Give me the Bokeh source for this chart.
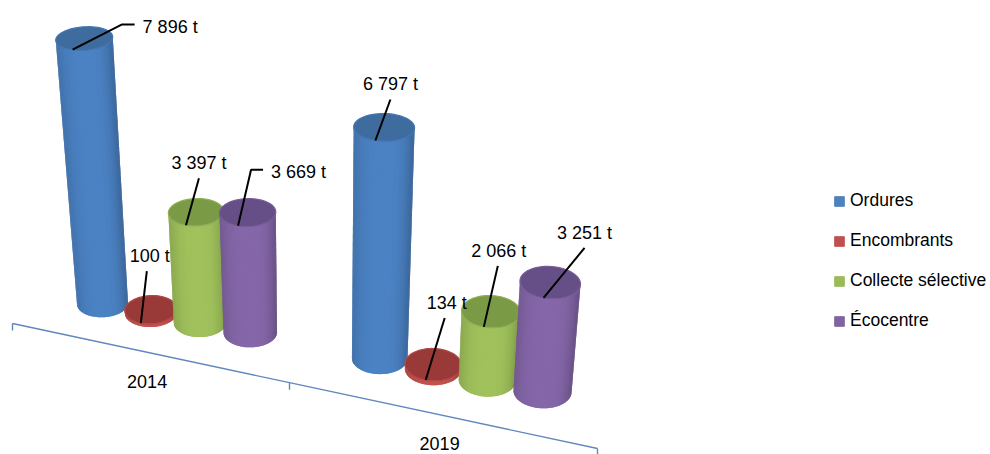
import math
from bokeh.plotting import figure
from bokeh.models import Range1d, Legend, LegendItem
from bokeh.core.properties import value
from bokeh.embed import file_html
from bokeh.resources import INLINE

# ---- data ----
years = ["2014", "2019"]
series_names = ["Ordures", "Encombrants", "Collecte sélective", "Écocentre"]
ordures = [7896, 6797]
encombrants = [100, 134]
collecte = [3397, 2066]
ecocentre = [3669, 3251]
all_series = [ordures, encombrants, collecte, ecocentre]

# ---- styles ----
body_colors = ["#4A80C0", "#C0504D", "#9DBE5A", "#8365A6"]
top_colors = ["#3F6C9F", "#9A3A38", "#7A9A45", "#654F86"]
legend_colors = ["#4F81BD", "#C0504D", "#9BBB59", "#8064A2"]
FONT = "Liberation Sans"

# leader layout per (series, year): elbow points and label anchor, relative to the top of the cylinder
leaders = {
    (0, 0): ([(49, -25), (62, -25)], (70, -23), "left"),
    (1, 0): ([(6, -52)], (9, -67), "center"),
    (2, 0): ([(13, -47)], (13, -62), "center"),
    (3, 0): ([(13, -56), (25, -56)], (33, -54), "left"),
    (0, 1): ([(15, -41)], (15, -56), "center"),
    (1, 1): ([(19, -62)], (21, -77), "center"),
    (2, 1): ([(14, -61)], (15, -76), "center"),
    (3, 1): ([(41, -50)], (41, -65), "center"),
}

# ---- oblique perspective projection ----
GROUP_GAP = 5.5


def floor_x(u):
    return 102 + 47.9 * u + 0.455 * u * u


def floor_y(u):
    return 303 + 9.3 * u + 0.121 * u * u


def lean(x):
    return (x - 319) * 0.000318


def flat(y):
    return 0.39 + 0.0005 * y


def height(v, u):
    return (0.03187 + 0.00015 * u) * v * (1 + 8.5e-10 * v * v)


def ell(cx, cy, rx, ry, a, th):
    c, s = math.cos(th), math.sin(th)
    return (cx + rx * c * math.cos(a) - ry * s * math.sin(a),
            cy + rx * c * math.sin(a) + ry * s * math.cos(a))


def shade(hex_color, f):
    r, g, b = [int(hex_color[i:i + 2], 16) for i in (1, 3, 5)]
    return "#%02x%02x%02x" % (min(255, int(r * f)), min(255, int(g * f)), min(255, int(b * f)))


p = figure(width=990, height=454, output_backend="svg", toolbar_location=None,
           x_range=Range1d(0, 990), y_range=Range1d(454, 0), min_border=0)
p.xaxis.visible = False
p.yaxis.visible = False
p.xgrid.visible = False
p.ygrid.visible = False
p.outline_line_color = None
p.background_fill_color = "white"

# ---- category axis (receding, so the second group is a little longer) ----
AX0 = (12, 323)
AX_LEN = (585, 125)
AX_COLOR = "#6088BE"


def ax_pos(i):
    f = 0.447 * i + 0.0265 * i * i
    return AX0[0] + AX_LEN[0] * f, AX0[1] + AX_LEN[1] * f


ax_pts = [ax_pos(i) for i in range(len(years) + 1)]
p.multi_line([[a[0] for a in ax_pts]], [[a[1] for a in ax_pts]], line_color=AX_COLOR, line_width=1.4)
p.multi_line([[a[0], a[0]] for a in ax_pts], [[a[1], a[1] + 7] for a in ax_pts],
             line_color=AX_COLOR, line_width=1.4)
p.text([ax_pos(i + .5)[0] for i in range(len(years))],
       [ax_pos(i + .5)[1] + 29 for i in range(len(years))],
       text=years, text_font=value(FONT), text_font_size="18px", text_color="#000000",
       text_align="center", text_baseline="middle")

# ---- cylinders ----
N = 48
line_x, line_y, lab_x, lab_y, lab_t, lab_a = [], [], [], [], [], []
for g in range(len(years)):
    for s, vals in enumerate(all_series):
        v = vals[g]
        u = g * GROUP_GAP + s
        bx, by = floor_x(u), floor_y(u)
        rb = 25.5 + 0.42 * u
        h = height(v, u)
        tx, ty = bx + h * lean(bx), by - h
        rt = rb + h * 0.0115
        ryb, ryt = rb * flat(by), rt * flat(ty)
        at = math.atan(lean(bx))
        ab = at * 0.5
        xs, ys, cols = [], [], []
        for i in range(N):
            t0 = math.pi * (1 - i / N)
            t1 = max(0.0, math.pi * (1 - (i + 2) / N))  # overlap: the next strip paints over this one
            p0 = ell(tx, ty, rt, ryt, at, t0)
            p1 = ell(tx, ty, rt, ryt, at, t1)
            p2 = ell(bx, by, rb, ryb, ab, t1)
            p3 = ell(bx, by, rb, ryb, ab, t0)
            xs.append([p0[0], p1[0], p2[0], p3[0]])
            ys.append([p0[1], p1[1], p2[1], p3[1]])
            c = math.cos(math.pi * (1 - (i + .5) / N))
            f = 1.02 - 0.14 * abs(c) ** 3 - (0.10 * c ** 4 if c > 0 else 0)
            cols.append(shade(body_colors[s], f))
        p.patches(xs, ys, fill_color=cols, line_color=None)
        lid = [ell(tx, ty, rt, ryt, at, 2 * math.pi * k / 60) for k in range(60)]
        p.patch([q[0] for q in lid], [q[1] for q in lid], fill_color=top_colors[s],
                line_color=shade(body_colors[s], 0.92), line_width=1.2)
        # leader
        sx, sy = tx - rt * (0.44 - 0.0004 * tx), ty + ryt * 0.95
        pts, anchor, align = leaders[(s, g)]
        line_x.append([sx] + [sx + q[0] for q in pts])
        line_y.append([sy] + [sy + q[1] for q in pts])
        lab_x.append(sx + anchor[0])
        lab_y.append(sy + anchor[1])
        lab_t.append(f"{v:,}".replace(",", " ") + " t")
        lab_a.append(align)

p.multi_line(line_x, line_y, line_color="#000000", line_width=2)
p.text(lab_x, lab_y, text=lab_t, text_font=value(FONT), text_font_size="18px", text_color="#000000",
       text_align=lab_a, text_baseline="middle")

# ---- legend ----
items = []
nan = float("nan")
for name, col in zip(series_names, legend_colors):
    r = p.quad(left=[nan], right=[nan], top=[nan], bottom=[nan], fill_color=col, line_color=col)
    items.append(LegendItem(label=name, renderers=[r]))
legend = Legend(items=items, location=(833, 123), orientation="vertical",
                glyph_width=12, glyph_height=12, label_standoff=5, spacing=19, padding=0, margin=0,
                border_line_color=None, background_fill_alpha=0,
                label_text_font=FONT, label_text_font_size="17.5px", label_text_color="#000000",
                label_height=20)
p.add_layout(legend, "center")

open("out.html", "w").write(file_html(p, INLINE))
